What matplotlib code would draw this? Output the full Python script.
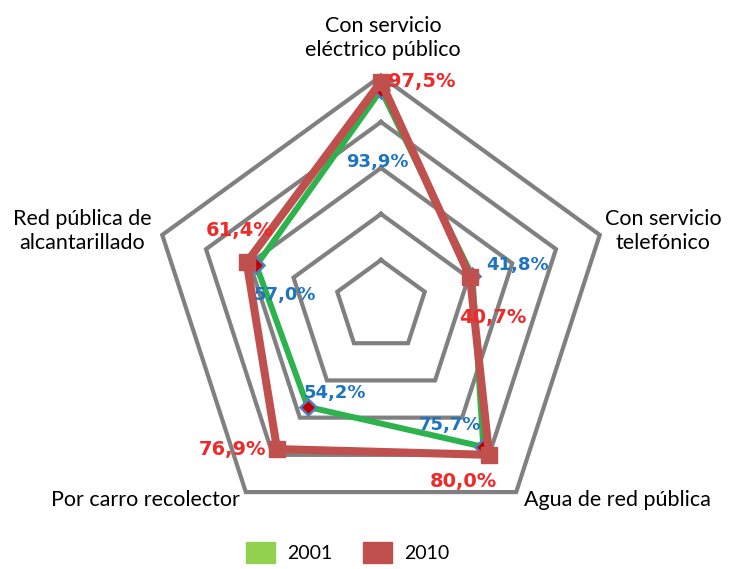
import numpy as np
import matplotlib
matplotlib.use("Agg")
import matplotlib.pyplot as plt
from matplotlib.patches import Patch

plt.rcParams['font.family'] = ['Lato', 'DejaVu Sans']

# ── data ───────────────────────────────────────────────────────────────────
categories = ["Con servicio\neléctrico público", "Con servicio\ntelefónico",
              "Agua de red pública", "Por carro recolector",
              "Red pública de\nalcantarillado"]
v2001 = [93.9, 41.8, 75.7, 54.2, 57.0]
v2010 = [97.5, 40.7, 80.0, 76.9, 61.4]
rings = [20, 40, 60, 80, 100]
series_names = ["2001", "2010"]

# label offsets in pixels (dx right, dy up)
off2001 = [(-4, -72), (45, 11), (-33, 22), (27, 14), (29, -30)]
off2010 = [(41, 0), (23, -40), (-26, -27), (-45, 0), (-7, 32)]

GRID = "#808080"
GREEN = "#2db34e"
RED = "#c0504d"
TXT_RED = "#ee2a2a"
TXT_BLUE = "#1f74bf"

n = len(categories)
theta = np.deg2rad(90 - 72 * np.arange(n))


def xy(vals):
    v = np.asarray(vals, dtype=float)
    x = v * np.cos(theta)
    y = v * np.sin(theta)
    return np.append(x, x[0]), np.append(y, y[0])


fig = plt.figure(figsize=(7.29, 5.69), dpi=100)
ax = fig.add_axes([0, 0, 1, 1])
scale = 2.3  # px per unit
ax.set_xlim(-381 / scale, (729 - 381) / scale)
ax.set_ylim(-(569 - 306) / scale, 306 / scale)
ax.axis("off")

for r in rings:
    gx, gy = xy([r] * n)
    ax.plot(gx, gy, color=GRID, lw=3, solid_joinstyle="miter", zorder=1)

x1, y1 = xy(v2001)
ax.plot(x1, y1, color=GREEN, lw=4.3, zorder=3)
ax.plot(x1[:-1], y1[:-1], ls="none", marker="D", ms=8.5,
        mfc="#c00000", mec="#4f81bd", mew=1.8, zorder=4)

x2, y2 = xy(v2010)
ax.plot(x2, y2, color=RED, lw=5.8, zorder=5)
ax.plot(x2[:-1], y2[:-1], ls="none", marker="s", ms=11,
        mfc=RED, mec=RED, zorder=6)

for i in range(n):
    ax.annotate(f"{v2001[i]:.1f}%".replace(".", ","), (x1[i], y1[i]),
                xytext=off2001[i], textcoords="offset pixels",
                ha="center", va="center", color=TXT_BLUE,
                fontsize=13, fontweight="bold", family="DejaVu Sans",
                zorder=7)
    ax.annotate(f"{v2010[i]:.1f}%".replace(".", ","), (x2[i], y2[i]),
                xytext=off2010[i], textcoords="offset pixels",
                ha="center", va="center", color=TXT_RED,
                fontsize=14, fontweight="bold", family="DejaVu Sans",
                zorder=7)

# category labels (pixel positions of label centres)
label_px = [(383, 38), (663, 231), (617, 500), (145, 500), (82, 231)]
for lab, (px, py) in zip(categories, label_px):
    ax.text(px / 729, 1 - py / 569, lab, transform=fig.transFigure,
            ha="center", va="center", fontsize=15.5, linespacing=1.2,
            color="black")

handles = [Patch(color="#92d050"), Patch(color=RED)]
fig.legend(handles, series_names, loc="lower center",
           bbox_to_anchor=(0.477, -0.003), ncol=2, frameon=False,
           fontsize=14, handlelength=1.5, handleheight=1.3,
           columnspacing=1.6, handletextpad=0.6, borderaxespad=0)

fig.savefig("out.png", dpi=100)
